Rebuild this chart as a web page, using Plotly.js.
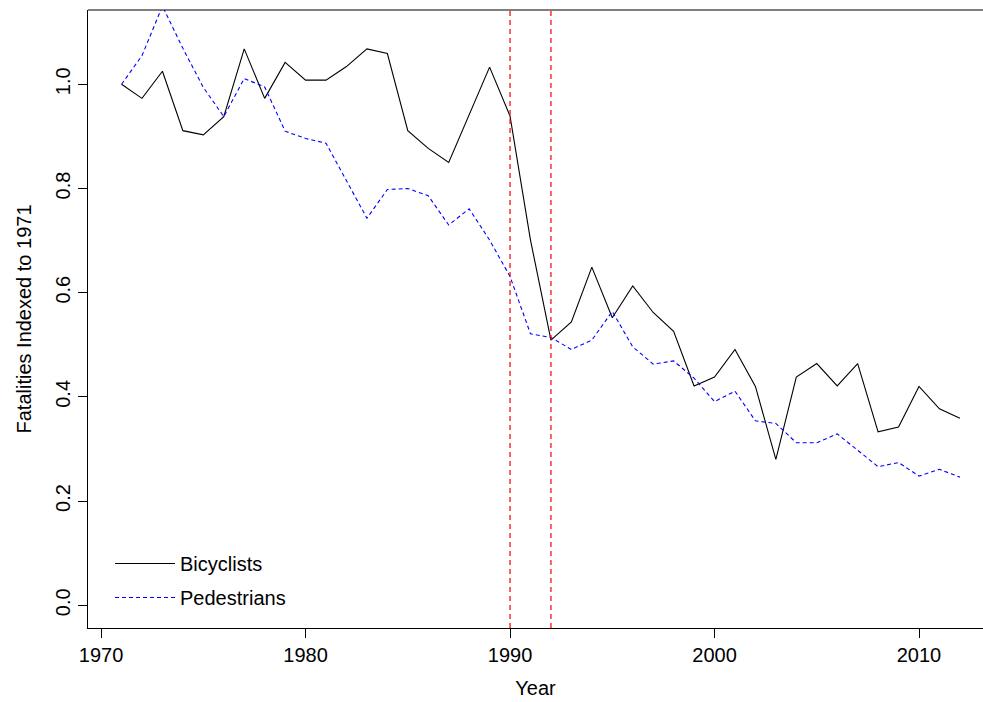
<!DOCTYPE html>
<html>
<head>
<meta charset="utf-8">
<script src="https://cdn.plot.ly/plotly-3.0.1.min.js"></script>
<style>html,body{margin:0;padding:0;background:#fff;}#chart{width:983px;height:702px;}</style>
</head>
<body>
<div id="chart"></div>
<script>
var years = [1971,1972,1973,1974,1975,1976,1977,1978,1979,1980,1981,1982,1983,1984,1985,1986,1987,1988,1989,1990,1991,1992,1993,1994,1995,1996,1997,1998,1999,2000,2001,2002,2003,2004,2005,2006,2007,2008,2009,2010,2011,2012];
var bicyclists = [1.000,0.973,1.025,0.911,0.903,0.938,1.068,0.973,1.042,1.008,1.008,1.034,1.068,1.059,0.911,0.877,0.850,0.941,1.033,0.939,0.701,0.509,0.544,0.649,0.552,0.613,0.562,0.526,0.421,0.438,0.491,0.420,0.280,0.438,0.464,0.421,0.464,0.333,0.342,0.420,0.377,0.359];
var pedestrians = [1.000,1.055,1.150,1.069,0.994,0.938,1.011,0.995,0.910,0.896,0.887,0.816,0.743,0.798,0.800,0.786,0.730,0.761,0.701,0.631,0.521,0.514,0.491,0.509,0.564,0.496,0.463,0.469,0.436,0.391,0.411,0.354,0.349,0.312,0.312,0.329,0.298,0.266,0.274,0.248,0.261,0.246];
var markerYears = [1990, 1992];
var seriesNames = ["Bicyclists", "Pedestrians"];
var xTicks = [1970, 1980, 1990, 2000, 2010];
var yTicks = [0, 0.2, 0.4, 0.6, 0.8, 1.0];

var font = "Liberation Sans, Arial, Helvetica, sans-serif";

var traces = [
  {x: years, y: bicyclists, name: seriesNames[0], type: "scatter", mode: "lines",
   line: {color: "#000000", width: 1.1}, legendgroup: "a"},
  {x: years, y: pedestrians, name: seriesNames[1], type: "scatter", mode: "lines",
   line: {color: "#0000ff", width: 1.1, dash: "4px,3px"}, legendgroup: "b"}
];

var shapes = markerYears.map(function (yr) {
  return {type: "line", xref: "x", yref: "paper", x0: yr, x1: yr, y0: 0, y1: 1,
          line: {color: "#ee0000", width: 1.2, dash: "5px,4px"}, layer: "above"};
});
shapes.push({type: "line", xref: "paper", yref: "paper", x0: 0, x1: 1, y0: 1, y1: 1,
             line: {color: "#000000", width: 1}});

var layout = {
  width: 983, height: 702,
  margin: {l: 88, r: 0, t: 10, b: 74, pad: 0},
  paper_bgcolor: "#ffffff", plot_bgcolor: "#ffffff",
  font: {family: font, size: 20, color: "#000000"},
  showlegend: true,
  legend: {x: 0.0246, y: 0.136, xanchor: "left", yanchor: "top", bgcolor: "rgba(0,0,0,0)",
           borderwidth: 0, font: {family: font, size: 20, color: "#000000"},
           tracegroupgap: 5, itemwidth: 60},
  xaxis: {
    range: [1969.36, 2013.13], tickvals: xTicks, ticktext: xTicks.map(String),
    showgrid: false, zeroline: false, showline: true, linecolor: "#000000", linewidth: 1,
    ticks: "outside", ticklen: 9, tickcolor: "#000000", tickwidth: 1,
    tickfont: {family: font, size: 20, color: "#000000"},
    title: {text: "Year", font: {family: font, size: 20, color: "#000000"}, standoff: 15}
  },
  yaxis: {
    range: [-0.0436, 1.1426], tickvals: yTicks, tickformat: ".1f",
    showgrid: false, zeroline: false, showline: true, linecolor: "#000000", linewidth: 1,
    ticks: "outside", ticklen: 9, tickcolor: "#000000", tickwidth: 1, tickangle: -90,
    tickfont: {family: font, size: 20, color: "#000000"},
    title: {text: "Fatalities Indexed to 1971", font: {family: font, size: 20, color: "#000000"}, standoff: 15}
  },
  shapes: shapes
};

Plotly.newPlot("chart", traces, layout, {displayModeBar: false, staticPlot: true});
</script>
</body>
</html>
